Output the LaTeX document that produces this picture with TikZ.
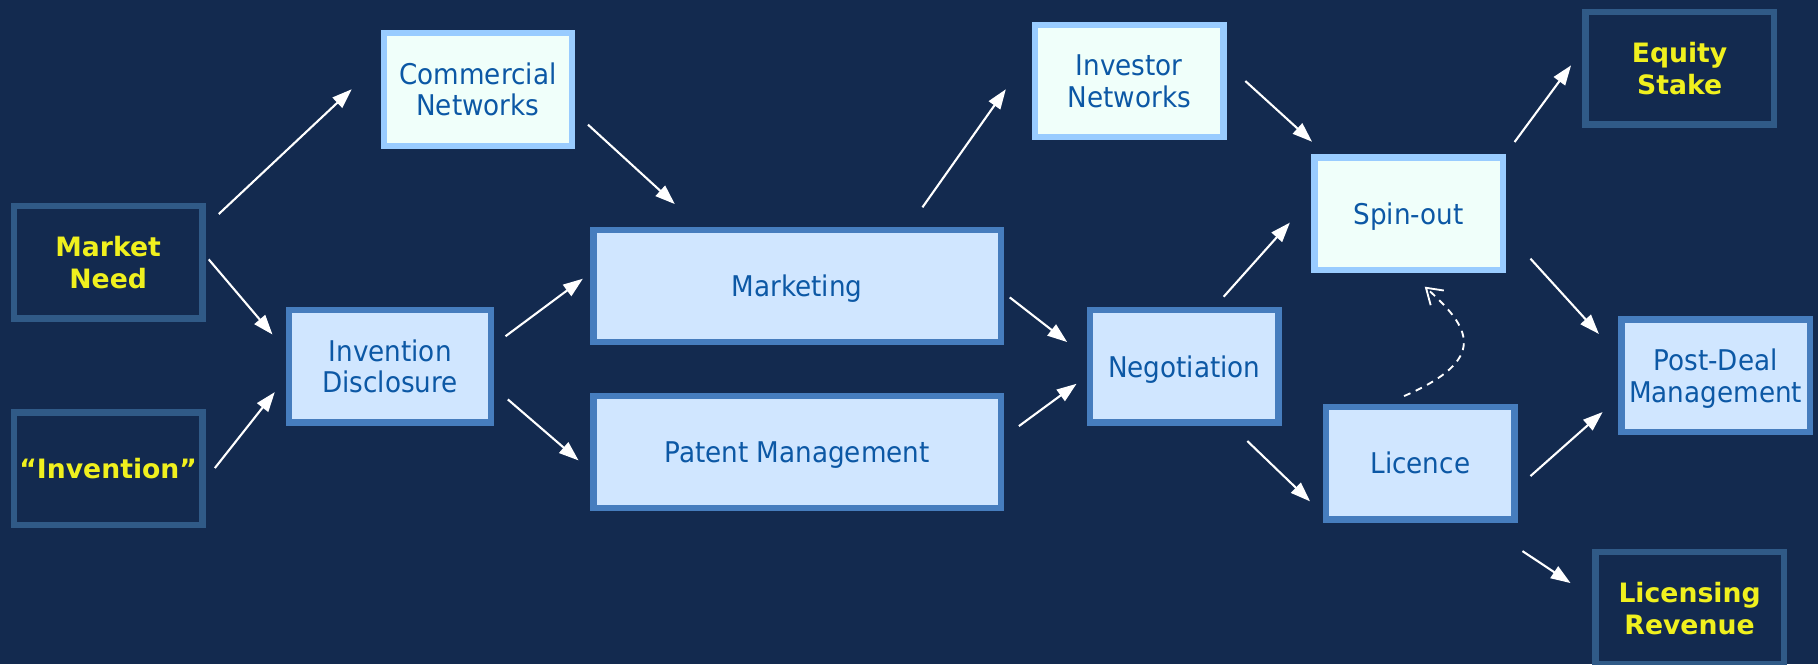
\documentclass[tikz,border=0pt]{standalone}
\usepackage{fontspec}
\setmainfont{DejaVu Sans}
\newfontfamily\regf{DejaVu Sans}[FakeStretch=0.92]
\usetikzlibrary{arrows.meta}
\definecolor{bg}{HTML}{132A4F}
\definecolor{darkb}{HTML}{305A87}
\definecolor{midb}{HTML}{467DBE}
\definecolor{lightb}{HTML}{D0E6FF}
\definecolor{skyb}{HTML}{99CCFF}
\definecolor{cyanw}{HTML}{F0FFFA}
\definecolor{txtb}{HTML}{0C58A5}
\definecolor{yel}{HTML}{F0F01E}
\begin{document}
\begin{tikzpicture}[x=0.5pt,y=-0.5pt,
  box/.style={line width=2.75pt, inner sep=0pt, outer sep=0pt, align=center,
    minimum width=81.25pt, minimum height=48.5pt, text depth=0pt},
  darkbox/.style={box, draw=darkb, fill=bg, text=yel,
    font=\fontsize{11.5pt}{13.8pt}\selectfont\bfseries},
  lightbox/.style={box, draw=midb, fill=lightb, text=txtb,
    font=\fontsize{12.3pt}{13.5pt}\selectfont\regf},
  cyanbox/.style={box, draw=skyb, fill=cyanw, text=txtb,
    font=\fontsize{12.3pt}{13.5pt}\selectfont\regf},
  widebox/.style={minimum width=175.75pt},
  arr/.style={draw=white, line width=0.9pt, -{Triangle[length=8.5pt,width=6pt]}},
  dasharr/.style={draw=white, line width=0.8pt, dash pattern=on 3pt off 2.5pt,
    -{Straight Barb[length=6.5pt,width=8.5pt]}}]
\fill[bg] (0,0) rectangle (1568,573);
\useasboundingbox (0,0) rectangle (1568,573);
% nodes
\node[darkbox] (mn) at (93.3,226.1) {Market\\Need};
\node[darkbox] (inv) at (93.3,404.2) {“Invention”};
\node[cyanbox] (cn) at (412.2,77.2) {Commercial\\Networks};
\node[lightbox, minimum width=87pt] (id) at (336.5,315.9) {Invention\\Disclosure};
\node[lightbox, widebox] (mk) at (687.5,246.7) {Marketing};
\node[lightbox, widebox] (pm) at (687.5,389.9) {Patent Management};
\node[cyanbox] (in) at (974,69.9) {Investor\\Networks};
\node[lightbox] (ng) at (1021.4,315.9) {Negotiation};
\node[cyanbox] (so) at (1215,184.3) {Spin-out};
\node[lightbox] (lc) at (1225,399.4) {Licence};
\node[darkbox] (es) at (1448.6,59) {Equity\\Stake};
\node[lightbox] (pd) at (1479.7,324) {Post-Deal\\Management};
\node[darkbox] (lr) at (1457.2,524.5) {Licensing\\Revenue};
% connectors
\draw[arr] ([shift={(95.4,-41.5)}]mn.center) -- ([shift={(-108.9,-0.2)}]cn.center);
\draw[arr] ([shift={(86.7,-2.4)}]mn.center) -- ([shift={(-101.5,-27.4)}]id.center);
\draw[arr] ([shift={(92,-0.5)}]inv.center) -- ([shift={(-99.5,22.3)}]id.center);
\draw[arr] ([shift={(99.5,-25.9)}]id.center) -- ([shift={(-184.8,-6.3)}]mk.center);
\draw[arr] ([shift={(101.5,28.6)}]id.center) -- ([shift={(-188.5,7.2)}]pm.center);
\draw[arr] ([shift={(94.9,30.3)}]cn.center) -- ([shift={(-105.5,-70.7)}]mk.center);
\draw[arr] ([shift={(108.1,-67.9)}]mk.center) -- ([shift={(-106.5,7.1)}]in.center);
\draw[arr] ([shift={(183.4,9.8)}]mk.center) -- ([shift={(-101,-20.9)}]ng.center);
\draw[arr] ([shift={(191.3,-22.4)}]pm.center) -- ([shift={(-92.9,15.1)}]ng.center);
\draw[arr] ([shift={(100.1,0)}]in.center) -- ([shift={(-83.4,-62.1)}]so.center);
\draw[arr] ([shift={(34,-60)}]ng.center) -- ([shift={(-102.5,7.7)}]so.center);
\draw[arr] ([shift={(91.3,-61.8)}]so.center) -- ([shift={(-93.6,-2.6)}]es.center);
\draw[arr] ([shift={(105,38.8)}]so.center) -- ([shift={(-100.7,-36)}]pd.center);
\draw[arr] ([shift={(54.4,64.5)}]ng.center) -- ([shift={(-95.1,33)}]lc.center);
\draw[arr] ([shift={(95,11.2)}]lc.center) -- ([shift={(-97.5,31.4)}]pd.center);
\draw[arr] ([shift={(88.1,75.9)}]lc.center) -- ([shift={(-102.6,-21.6)}]lr.center);
\draw[dasharr] ([shift={(-14,-57.8)}]lc.center) .. controls ([shift={(60,-90)}]lc.center) and ([shift={(53,98)}]so.center) .. ([shift={(13.8,62.95)}]so.center);
\end{tikzpicture}
\end{document}
